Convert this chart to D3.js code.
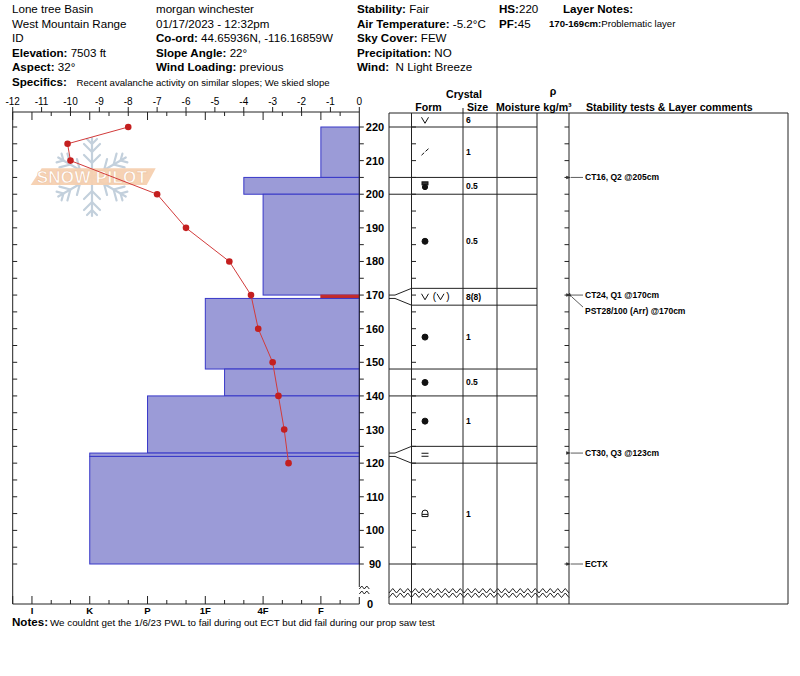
<!DOCTYPE html>
<html><head><meta charset="utf-8">
<script src="https://cdn.jsdelivr.net/npm/d3@7"></script>
<style>
body{margin:0;background:#fff}
svg{display:block}
text{font-family:"Liberation Sans",Arial,sans-serif;fill:#000}
</style>
</head><body>
<svg id="c" width="800" height="676"></svg>
<script>
// ---------------- DATA ----------------
const headerCol1 = [["","Lone tree Basin"],["","West Mountain Range"],["","ID"],["Elevation: ","7503 ft"],["Aspect: ","32°"]];
const headerCol2 = [["","morgan winchester"],["","01/17/2023 - 12:32pm"],["Co-ord: ","44.65936N, -116.16859W"],["Slope Angle: ","22°"],["Wind Loading: ","previous"]];
const headerCol3 = [["Stability: ","Fair"],["Air Temperature: ","-5.2°C"],["Sky Cover: ","FEW"],["Precipitation: ","NO"],["Wind: ","\u00a0N Light Breeze"]];
const headerCol4 = [["HS:","220"],["PF:","45"]];
const layerNoteLabel = "170-169cm:";
const layerNoteText = "Problematic layer";
const specificsText = "Recent avalanche activity on similar slopes; We skied slope";
const notesText = "We couldnt get the 1/6/23 PWL to fail during out ECT but did fail during our prop saw test";

const tempTicks = [-12,-11,-10,-9,-8,-7,-6,-5,-4,-3,-2,-1,0];
const hardnessLabels = ["I","K","P","1F","4F","F"];
const hardnessCodes = ["F-","F","F+","4F-","4F","4F+","1F-","1F","1F+","P-","P","P+","K-","K","K+","I-","I","I+"];

// hardness profile layers (cm)
const layerTop = [220,205,200,170,169,148,140,123,122];
const layerBottom = [205,200,170,169,148,140,123,122,90];
const layerHardness = ["F","4F+","4F","F","1F","1F-","P","K","K"];
const layerProblem = [false,false,false,true,false,false,false,false,false];

// temperature profile
const tempHeights = [220,215,210,200,190,180,170,160,150,140,130,120];
const tempValues = [-8.0,-10.1,-10.0,-7.0,-6.0,-4.5,-3.75,-3.5,-3.0,-2.8,-2.6,-2.45];

// table
const heightTicks = [90,100,110,120,130,140,150,160,170,180,190,200,210,220];
const tableLines = [220,205,200,172,167,148,140,125,120,90];
const spreadDisplay = [172,167,125,120];
const spreadActual = [170,169,123,122];
const formRowHeights = [222,212.5,202.5,186,169.5,157.5,144,132.5,122.5,105];
const formCodes = ["DH","DF","MFcl","RG","DH(DH)","RG","RG","RG","SH","MFcr"];
const formSizes = ["6","1","0.5","0.5","8(8)","1","0.5","1","","1"];
const commentHeights = [205,170,170,123,90];
const commentTexts = ["CT16, Q2 @205cm","CT24, Q1 @170cm","PST28/100 (Arr) @170cm","CT30, Q3 @123cm","ECTX"];

// ---------------- SCALES ----------------
const svg = d3.select("#c");
const y = d3.scaleLinear().domain([90,220]).range([564,127]);
const xT = d3.scaleLinear().domain([-12,0]).range([12.7,359.3]);
const xH = d3.scaleLinear().domain([0,18]).range([359.4,12.7]);
const hIdx = c => hardnessCodes.indexOf(c)+1;
const L = 12.7, R = 359.3, TOP = 112, BOT = 604;
const ink = "#222";

// ---------------- HEADER ----------------
function headerCol(data, x) {
  data.forEach((d,i)=>{
    const t = svg.append("text").attr("x",x).attr("y",13+i*14.5).attr("font-size",11.6);
    if (d[0]) t.append("tspan").attr("font-weight","bold").text(d[0]);
    t.append("tspan").text(d[1]);
  });
}
headerCol(headerCol1, 12);
headerCol(headerCol2, 156);
headerCol(headerCol3, 357);
headerCol(headerCol4, 499);
svg.append("text").attr("x",563).attr("y",13).attr("font-size",11.6).attr("font-weight","bold").text("Layer Notes:");
{
  const t = svg.append("text").attr("x",549).attr("y",27).attr("font-size",9.6);
  t.append("tspan").attr("font-weight","bold").text(layerNoteLabel);
  t.append("tspan").text(layerNoteText);
}
svg.append("text").attr("x",12).attr("y",86).attr("font-size",11.6).attr("font-weight","bold").text("Specifics:");
svg.append("text").attr("x",76.5).attr("y",86).attr("font-size",9.6).text(specificsText);
svg.append("text").attr("x",12).attr("y",626).attr("font-size",11.6).attr("font-weight","bold").text("Notes:");
svg.append("text").attr("x",50).attr("y",626).attr("font-size",9.8).text(notesText);

// ---------------- WATERMARK ----------------
{
  const g = svg.append("g").attr("transform","translate(92,177)").attr("stroke","#c3d0dc").attr("stroke-width",2.2).attr("fill","none").attr("stroke-linecap","round");
  for (let k=0;k<6;k++){
    const a = g.append("g").attr("transform",`rotate(${k*60})`);
    a.append("line").attr("x1",0).attr("y1",0).attr("x2",0).attr("y2",-39);
    [[-14,8],[-25,8],[-33,5]].forEach(([yy,w])=>{
      a.append("path").attr("d",`M${-w},${yy-w} L0,${yy} L${w},${yy-w}`);
    });
  }
  svg.append("path").attr("d","M41.7,168.3 L155.7,168.3 L146.7,185 L30.7,185 Z").attr("fill","#f6d0b0").attr("opacity",0.95);
  svg.append("text").attr("x",92).attr("y",183).attr("text-anchor","middle").attr("font-size",17).attr("font-weight","bold")
    .attr("letter-spacing",0.3).style("fill","#fff").attr("stroke","#eec3a0").attr("stroke-width",0.6).text("SNOW PILOT");
}

// ---------------- HARDNESS BARS ----------------
layerTop.forEach((t,i)=>{
  const x0 = xH(hIdx(layerHardness[i]));
  svg.append("rect").attr("x",x0).attr("y",y(t)).attr("width",R-x0).attr("height",y(layerBottom[i])-y(t))
    .attr("fill",layerProblem[i]?"#c42a2a":"#9b9bd7")
    .attr("stroke",layerProblem[i]?"#c42a2a":"#3838c8").attr("stroke-width",1);
});

// ---------------- TEMPERATURE PROFILE ----------------
const tp = tempHeights.map((h,i)=>[xT(tempValues[i]), y(h)]);
svg.append("path").attr("d",d3.line()(tp)).attr("fill","none").attr("stroke","#d23b3b").attr("stroke-width",1);
svg.selectAll(".tp").data(tp).enter().append("circle").attr("cx",d=>d[0]).attr("cy",d=>d[1]).attr("r",3.3).attr("fill","#c41f1f");

// ---------------- AXES (left plot) ----------------
const ax = svg.append("g").attr("stroke",ink).attr("stroke-width",1).attr("fill","none");
ax.append("line").attr("x1",L).attr("x2",R).attr("y1",TOP).attr("y2",TOP);
ax.append("line").attr("x1",L).attr("x2",R).attr("y1",BOT).attr("y2",BOT);
ax.append("line").attr("x1",L).attr("x2",L).attr("y1",TOP).attr("y2",BOT);
ax.append("line").attr("x1",R).attr("x2",R).attr("y1",TOP).attr("y2",587);
ax.append("line").attr("x1",R).attr("x2",R).attr("y1",597).attr("y2",BOT);
// zigzag break on right axis
[589,594].forEach(yy=>{
  ax.append("path").attr("d",`M${R},${yy} l2.5,-3 l2.5,3 l2.5,-3 l2.5,3`);
});
// temperature ticks (top)
tempTicks.forEach(t=>{
  ax.append("line").attr("x1",xT(t)).attr("x2",xT(t)).attr("y1",TOP).attr("y2",TOP-5);
  svg.append("text").attr("x",xT(t)).attr("y",104.5).attr("text-anchor","middle").attr("font-size",10).text(t);
});
// hardness ticks (top, downward) and bottom (upward)
d3.range(1,19).forEach(i=>{
  const major = (i%3===2)||i===18;
  ax.append("line").attr("x1",xH(i)).attr("x2",xH(i)).attr("y1",TOP).attr("y2",TOP+(major?8:4));
  ax.append("line").attr("x1",xH(i)).attr("x2",xH(i)).attr("y1",BOT).attr("y2",BOT-(major?8:4));
});
hardnessLabels.forEach(lbl=>{
  svg.append("text").attr("x",xH(hIdx(lbl))).attr("y",613.5).attr("text-anchor","middle").attr("font-size",9.5).attr("font-weight","bold").text(lbl);
});
// height ticks on plot borders
d3.range(90,221,5).forEach(h=>{
  ax.append("line").attr("x1",L).attr("x2",L+4.5).attr("y1",y(h)).attr("y2",y(h));
  ax.append("line").attr("x1",R).attr("x2",R+4.5).attr("y1",y(h)).attr("y2",y(h));
});
heightTicks.forEach(h=>{
  svg.append("text").attr("x",375).attr("y",y(h)+4).attr("text-anchor","middle").attr("font-size",11).attr("font-weight","bold").text(h);
});
svg.append("text").attr("x",370).attr("y",608).attr("text-anchor","middle").attr("font-size",11).attr("font-weight","bold").text("0");

// ---------------- TABLE ----------------
const TL = 389, cForm = 411.5, cSize = 463, cMoist = 497, cRho = 537, cCom = 569, TR = 788, TT = 113;
const tg = svg.append("g").attr("stroke",ink).attr("stroke-width",1).attr("fill","none");
[TL,cForm,cSize,cMoist,cRho,cCom,TR].forEach(x=>{
  tg.append("line").attr("x1",x).attr("x2",x).attr("y1",TT).attr("y2",BOT);
});
tg.append("line").attr("x1",cSize).attr("x2",cSize).attr("y1",108).attr("y2",TT);
tg.append("line").attr("x1",TL).attr("x2",TR).attr("y1",TT).attr("y2",TT);
tg.append("line").attr("x1",TL).attr("x2",TR).attr("y1",BOT).attr("y2",BOT);
tableLines.forEach(h=>{
  const spread = spreadDisplay.includes(h);
  tg.append("line").attr("x1",spread?cForm:TL).attr("x2",cRho).attr("y1",y(h)).attr("y2",y(h));
});
spreadDisplay.forEach((h,i)=>{
  const ya = y(spreadActual[i]);
  tg.append("path").attr("d",`M${TL},${ya} L${TL+6},${ya} L${cForm},${y(h)}`);
});
d3.range(90,221,5).forEach(h=>{
  tg.append("line").attr("x1",cForm).attr("x2",cForm+4.5).attr("y1",y(h)).attr("y2",y(h));
  tg.append("line").attr("x1",cCom-4.5).attr("x2",cCom).attr("y1",y(h)).attr("y2",y(h));
});
// zigzag break across table
[593,597.5].forEach(yy=>{
  let d = `M${TL},${yy}`;
  for (let x=TL; x<cCom; x+=7.5) d += ` L${x+3.75},${yy-4.5} L${x+7.5},${yy}`;
  tg.append("path").attr("d",d);
});

// table header
const hdr = (x,yy,txt,anchor)=>svg.append("text").attr("x",x).attr("y",yy).attr("font-size",10.6).attr("font-weight","bold").attr("text-anchor",anchor||"middle").text(txt);
hdr(464,97.5,"Crystal");
hdr(428.5,111,"Form");
hdr(477.5,111,"Size");
hdr(518,111,"Moisture");
hdr(553,95,"ρ");
hdr(557.5,111,"kg/m³");
hdr(586,111,"Stability tests & Layer comments","start");

// form symbols
function drawForm(code, cx, cy){
  const g = svg.append("g").attr("transform",`translate(${cx},${cy})`).attr("stroke","#111").attr("fill","none").attr("stroke-width",1);
  const V = (dx)=>g.append("path").attr("d",`M${dx-3.5},-3 L${dx},3 L${dx+3.5},-3`);
  if (code==="DH") V(0);
  else if (code==="DF") { g.append("path").attr("d","M-3.5,3 L-0.8,0.5 M0.5,-0.8 L3.5,-3.5"); }
  else if (code==="MFcl") { g.append("rect").attr("x",-3).attr("y",-4).attr("width",6).attr("height",3).attr("fill","#333"); g.append("circle").attr("cx",0).attr("cy",1.2).attr("r",2.6).attr("fill","#111"); }
  else if (code==="RG") g.append("circle").attr("r",3).attr("fill","#111");
  else if (code==="DH(DH)") {
    V(0); V(15.5);
    g.append("text").attr("x",9.5).attr("y",3.5).attr("font-size",10).attr("text-anchor","middle").attr("stroke","none").text("(");
    g.append("text").attr("x",23).attr("y",3.5).attr("font-size",10).attr("text-anchor","middle").attr("stroke","none").text(")");
  }
  else if (code==="SH") g.append("path").attr("d","M-3.5,-1.5 L3.5,-1.5 M-3.5,1.5 L3.5,1.5");
  else if (code==="MFcr") { g.append("path").attr("d","M-3,3 L-3,-0.5 A3,3 0 0 1 3,-0.5 L3,3 Z M-3,0.8 L3,0.8"); }
}
formRowHeights.forEach((h,i)=>{
  drawForm(formCodes[i], 425, y(h));
  if (formSizes[i]) svg.append("text").attr("x",466).attr("y",y(h)+3).attr("font-size",8.5).attr("font-weight","bold").text(formSizes[i]);
});

// comments
svg.append("defs").append("marker").attr("id","ar").attr("viewBox","0 0 6 6").attr("refX",0).attr("refY",3)
  .attr("markerWidth",6).attr("markerHeight",6).attr("orient","auto-start-reverse")
  .append("path").attr("d","M0,3 L6,0.8 L6,5.2 Z").attr("fill","#333");
commentHeights.forEach((h,i)=>{
  const dup = commentHeights.slice(0,i).filter(v=>v===h).length;
  const ty = y(h) + dup*16;
  if (dup===0) {
    svg.append("line").attr("x1",583).attr("x2",571).attr("y1",y(h)).attr("y2",y(h)).attr("stroke","#333").attr("stroke-width",0.8).attr("marker-end","url(#ar)");
  } else {
    svg.append("line").attr("x1",583).attr("x2",572).attr("y1",ty-4).attr("y2",y(h)+2).attr("stroke","#333").attr("stroke-width",0.8).attr("marker-end","url(#ar)");
  }
  svg.append("text").attr("x",585).attr("y",ty+3).attr("font-size",8.5).attr("font-weight","bold").text(commentTexts[i]);
});
</script>
</body></html>
